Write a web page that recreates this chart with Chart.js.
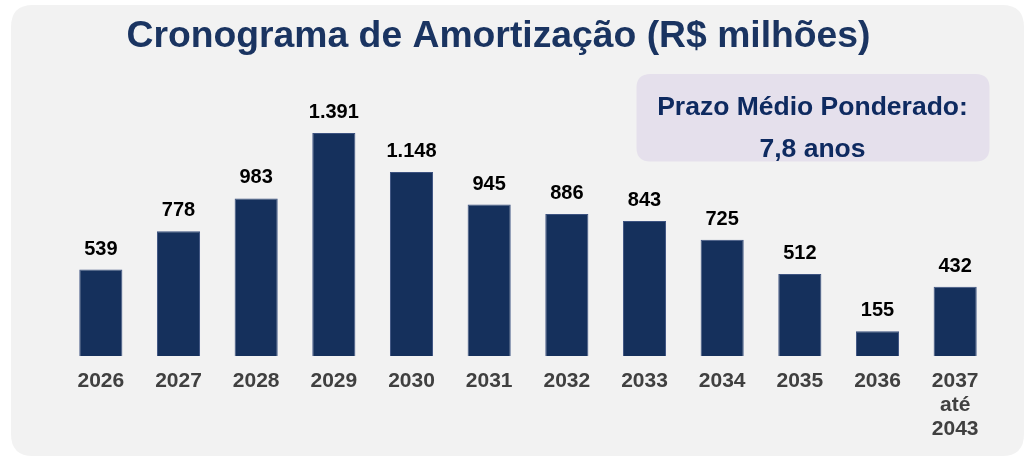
<!DOCTYPE html>
<html lang="pt-BR">
<head>
<meta charset="utf-8">
<title>Cronograma de Amortização</title>
<script src="https://cdn.jsdelivr.net/npm/chart.js@4.4.1/dist/chart.umd.min.js"></script>
<style>
  html, body { margin: 0; padding: 0; background: #ffffff; }
  #wrap { width: 1025px; height: 456px; }
</style>
</head>
<body>
<div id="wrap"><canvas id="amortChart" width="1025" height="456"></canvas></div>
<script>
const chartTitle = "Cronograma de Amortização (R$ milhões)";
const years = ["2026", "2027", "2028", "2029", "2030", "2031", "2032", "2033", "2034", "2035", "2036", ["2037", "até", "2043"]];
const amortization = [539, 778, 983, 1391, 1148, 945, 886, 843, 725, 512, 155, 432];
const boxLines = ["Prazo Médio Ponderado:", "7,8 anos"];

const FONT = "'Liberation Sans', Arial, Helvetica, sans-serif";
const NAVY = "#15305c";

// 1.391 style thousands separator
function fmtBR(n) {
  return String(n).replace(/\B(?=(\d{3})+(?!\d))/g, ".");
}

function roundRect(ctx, x, y, w, h, r) {
  ctx.beginPath();
  ctx.moveTo(x + r, y);
  ctx.lineTo(x + w - r, y);
  ctx.quadraticCurveTo(x + w, y, x + w, y + r);
  ctx.lineTo(x + w, y + h - r);
  ctx.quadraticCurveTo(x + w, y + h, x + w - r, y + h);
  ctx.lineTo(x + r, y + h);
  ctx.quadraticCurveTo(x, y + h, x, y + h - r);
  ctx.lineTo(x, y + r);
  ctx.quadraticCurveTo(x, y, x + r, y);
  ctx.closePath();
}

const decorPlugin = {
  id: "decor",
  beforeDraw(chart) {
    const ctx = chart.ctx;
    ctx.save();
    // grey panel
    ctx.fillStyle = "#f2f2f2";
    roundRect(ctx, 11, 5, 1013, 451, 22);
    ctx.fill();
    // lavender info box
    ctx.fillStyle = "#e5e0ec";
    roundRect(ctx, 636.5, 74, 353, 87.5, 14);
    ctx.fill();
    ctx.fillStyle = "#0e2a60";
    ctx.font = "bold 26.5px " + FONT;
    ctx.textAlign = "center";
    ctx.textBaseline = "alphabetic";
    ctx.fillText(boxLines[0], 812.5, 115);
    ctx.fillText(boxLines[1], 812.5, 157);
    ctx.restore();
  },
  afterDatasetsDraw(chart) {
    const ctx = chart.ctx;
    const meta = chart.getDatasetMeta(0);
    ctx.save();
    ctx.fillStyle = "#000000";
    ctx.font = "bold 20px " + FONT;
    ctx.textAlign = "center";
    ctx.textBaseline = "alphabetic";
    meta.data.forEach((bar, i) => {
      ctx.fillText(fmtBR(amortization[i]), bar.x, bar.y - 15);
    });
    ctx.restore();
  },
};

new Chart(document.getElementById("amortChart"), {
  type: "bar",
  data: {
    labels: years,
    datasets: [
      {
        data: amortization,
        backgroundColor: NAVY,
        borderColor: "#3c5280",
        borderWidth: 1,
        categoryPercentage: 1,
        barPercentage: 0.555,
      },
    ],
  },
  options: {
    responsive: false,
    animation: false,
    layout: { padding: { top: 0, left: 3, right: 31, bottom: 2 } },
    plugins: {
      legend: { display: false },
      tooltip: { enabled: false },
      title: {
        display: true,
        text: chartTitle,
        color: "#1a3461",
        font: { family: FONT, size: 37.3, weight: "bold", lineHeight: 1.2 },
        padding: { top: 14.3, bottom: 40.5 },
      },
    },
    scales: {
      x: {
        grid: { display: false, drawTicks: false },
        border: { display: false },
        ticks: {
          color: "#404040",
          padding: 13,
          maxRotation: 0,
          autoSkip: false,
          font: { family: FONT, size: 21, weight: "bold", lineHeight: 1.143 },
        },
      },
      y: {
        min: 0,
        max: 1600,
        grid: { display: false, drawTicks: false },
        border: { display: false },
        ticks: { display: false },
        afterFit(scale) {
          scale.width = 59;
        },
      },
    },
  },
  plugins: [decorPlugin],
});
</script>
</body>
</html>
